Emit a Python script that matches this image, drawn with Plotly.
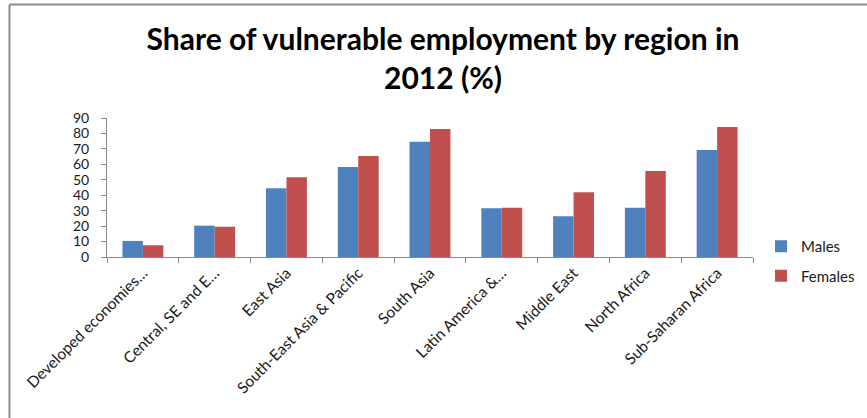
import plotly.graph_objects as go

# Vulnerable employment share by region, 2012 (%)
regions = [
    "Developed economies…",
    "Central, SE and E…",
    "East Asia",
    "South-East Asia & Pacific",
    "South Asia",
    "Latin America &…",
    "Middle East",
    "North Africa",
    "Sub-Saharan Africa",
]
males = [10.4, 20.3, 44.5, 58.3, 74.7, 31.5, 26.4, 31.9, 69.3]
females = [7.6, 19.6, 51.6, 65.4, 82.9, 31.9, 41.9, 55.7, 84.2]
y_ticks = [0, 10, 20, 30, 40, 50, 60, 70, 80, 90]

FONT = "Lato, 'Open Sans', sans-serif"
AXIS_GREY = "#8a8a8a"
TEXT = "#1a1a1a"

fig = go.Figure()
fig.add_trace(go.Bar(name="Males", x=regions, y=males, marker_color="#4F81BD",
                     marker_line_width=0, legendgroup="m"))
fig.add_trace(go.Bar(name="Females", x=regions, y=females, marker_color="#C0504D",
                     marker_line_width=0, legendgroup="f"))

W, H = 867, 418
L, R, T, B = 107, 114, 118, 161
pw, ph = W - L - R, H - T - B

def px_x(x):
    return (x - L) / pw

def px_y(y):
    return (H - B - y) / ph

fig.update_layout(
    width=W, height=H,
    margin=dict(l=L, r=R, t=T, b=B, autoexpand=False),
    paper_bgcolor="white", plot_bgcolor="white",
    font=dict(family=FONT, color=TEXT, size=15),
    title=dict(
        text="<b>Share of vulnerable employment by region in<br>2012 (%)</b>",
        x=443 / W, xanchor="center", xref="container",
        y=1 - 50 / H, yanchor="top",
        font=dict(family=FONT, size=30, color="#000000"),
    ),
    barmode="group", bargap=0.43, bargroupgap=0,
    showlegend=True,
    legend=dict(
        x=px_x(761), y=px_y(230), xanchor="left", yanchor="top",
        font=dict(family=FONT, size=15, color=TEXT),
        traceorder="grouped", tracegroupgap=7,
        itemwidth=30, bgcolor="rgba(0,0,0,0)",
    ),
    xaxis=dict(
        type="category", tickangle=-45, tickson="boundaries",
        ticks="outside", ticklen=5, tickcolor=AXIS_GREY,
        showline=True, linecolor=AXIS_GREY, linewidth=1,
        showgrid=False, tickfont=dict(family=FONT, size=15.5, color=TEXT),
    ),
    yaxis=dict(
        range=[0, 90], tickvals=y_ticks, ticks="outside", ticklen=5,
        tickcolor=AXIS_GREY, showline=True, linecolor=AXIS_GREY, linewidth=1,
        showgrid=False, zeroline=False, ticklabelstandoff=9,
        tickfont=dict(family=FONT, size=14, color=TEXT),
    ),
    shapes=[
        dict(type="line", xref="paper", yref="paper",
             x0=px_x(9.5), x1=px_x(W + 5), y0=px_y(4.5), y1=px_y(4.5),
             line=dict(color="#8c8c8c", width=2)),
        dict(type="line", xref="paper", yref="paper",
             x0=px_x(9.5), x1=px_x(9.5), y0=px_y(4.5), y1=px_y(H + 5),
             line=dict(color="#8c8c8c", width=2)),
    ],
)

fig.write_html("out.html")
